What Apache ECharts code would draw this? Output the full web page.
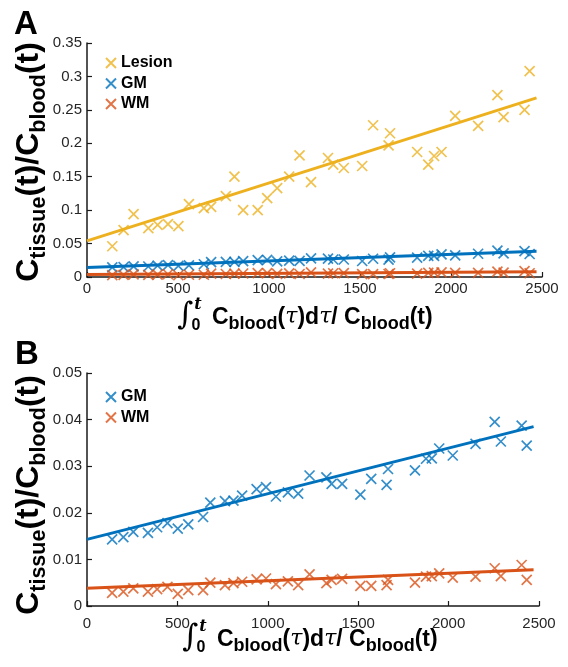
<!DOCTYPE html>
<html>
<head>
<meta charset="utf-8">
<script src="https://cdn.jsdelivr.net/npm/echarts@6/dist/echarts.min.js"></script>
<style>
html, body { margin: 0; padding: 0; background: #fff; }
#chart { width: 568px; height: 667px; }
</style>
</head>
<body>
<div id="chart"></div>
<script>
// x = integral of C_blood / C_blood, same time points for every tissue
var xs = [139, 201, 256, 337, 388, 445, 502, 560, 642, 682, 763, 810, 858, 938, 990, 1045, 1111, 1168,
          1231, 1324, 1353, 1411, 1512, 1572, 1657, 1665, 1814, 1875, 1907, 1948, 2023, 2149, 2255, 2289, 2404, 2432];
var lesion = [0.046, 0.070, 0.094, 0.073, 0.078, 0.079, 0.076, 0.109, 0.103, 0.105, 0.121, 0.150, 0.100, 0.100, 0.118, 0.133, 0.150, 0.182,
              0.142, 0.178, 0.168, 0.163, 0.166, 0.227, 0.197, 0.215, 0.187, 0.168, 0.181, 0.187, 0.241, 0.226, 0.272, 0.239, 0.250, 0.308];
var gm = [0.0143, 0.0148, 0.0159, 0.0157, 0.0169, 0.0178, 0.0166, 0.0175, 0.0191, 0.0222, 0.0225, 0.0226, 0.0237, 0.0251, 0.0255, 0.0235, 0.0244, 0.0241,
          0.0280, 0.0276, 0.0262, 0.0262, 0.0239, 0.0273, 0.0260, 0.0294, 0.0291, 0.0316, 0.0317, 0.0338, 0.0323, 0.0348, 0.0395, 0.0353, 0.0387, 0.0344];
var wm = [0.0028, 0.0031, 0.0038, 0.0031, 0.0036, 0.0041, 0.0026, 0.0034, 0.0034, 0.0050, 0.0045, 0.0049, 0.0052, 0.0057, 0.0059, 0.0047, 0.0053, 0.0045,
          0.0068, 0.0049, 0.0056, 0.0058, 0.0043, 0.0043, 0.0045, 0.0056, 0.0050, 0.0063, 0.0064, 0.0070, 0.0061, 0.0063, 0.0081, 0.0064, 0.0088, 0.0056];

// linear fits, read at both ends
var fitX = [0, 2470];
var lesionFit = [0.054, 0.268];
var gmFit = [0.0143, 0.0385];
var wmFit = [0.0038, 0.0078];

// axis ranges / tick steps
var xMax = 2500, xStep = 500;
var yMaxA = 0.35, yStepA = 0.05;
var yMaxB = 0.05, yStepB = 0.01;

var C_LESION = '#EDB120', C_GM = '#0072BD', C_WM = '#D95319';
var FONT = 'Liberation Sans, Arial, sans-serif';
var CROSS = 'path://M0,0L10,10M10,0L0,10';

function pts(ys) { return xs.map(function (x, i) { return [x, ys[i]]; }); }
function fit(ys) { return fitX.map(function (x, i) { return [x, ys[i]]; }); }

function scatter(name, ys, c, idx) {
    return {
        name: name, type: 'scatter', xAxisIndex: idx, yAxisIndex: idx,
        data: pts(ys), symbol: CROSS, symbolSize: 10,
        itemStyle: { color: 'transparent', borderColor: c, borderWidth: 1.7 },
        z: 2
    };
}
function fitLine(name, ys, c, idx) {
    return {
        name: name + ' fit', type: 'line', xAxisIndex: idx, yAxisIndex: idx,
        data: fit(ys), symbol: 'none', lineStyle: { color: c, width: 3 }, z: 3
    };
}

function xAxis(idx, margin) {
    return {
        type: 'value', gridIndex: idx, min: 0, max: xMax, interval: xStep,
        axisLine: { lineStyle: { color: '#1a1a1a', width: 1.5 } },
        axisTick: { inside: true, length: 5, lineStyle: { color: '#1a1a1a', width: 1.2 } },
        axisLabel: { fontSize: 15, color: '#262626', fontFamily: FONT, margin: margin,
                     formatter: function (v) { return String(v); } },
        splitLine: { show: false }
    };
}
function yAxis(idx, max, step) {
    return {
        type: 'value', gridIndex: idx, min: 0, max: max, interval: step,
        axisLine: { show: true, lineStyle: { color: '#1a1a1a', width: 1.5 } },
        axisTick: { show: true, inside: true, length: 5, lineStyle: { color: '#1a1a1a', width: 1.2 } },
        axisLabel: { fontSize: 15, color: '#262626', fontFamily: FONT, margin: 5 },
        splitLine: { show: false }
    };
}

var yRich = {
    m: { fontSize: 32, fontWeight: 'bold', fontFamily: FONT, fill: '#000', color: '#000', lineHeight: 35, verticalAlign: 'top' },
    s: { fontSize: 21.5, fontWeight: 'bold', fontFamily: FONT, fill: '#000', color: '#000', lineHeight: 21.5, padding: [14.5, 0, 0, 0], verticalAlign: 'top' }
};
var xRich = {
    m: { fontSize: 23, fontWeight: 'bold', fontFamily: FONT, fill: '#000', color: '#000', lineHeight: 26, verticalAlign: 'top' },
    g: { fontSize: 22, fontStyle: 'italic', fontFamily: 'DejaVu Serif', fill: '#000', color: '#000', lineHeight: 26, verticalAlign: 'top' },
    s: { fontSize: 18, fontWeight: 'bold', fontFamily: FONT, fill: '#000', color: '#000', lineHeight: 18, padding: [9.5, 0, 0, 0], verticalAlign: 'top' }
};

function yTitle(cx, cy) {
    return {
        type: 'text', x: cx, y: cy, rotation: Math.PI / 2,
        style: {
            text: '{m|C}{s|tissue}{m|(t)/C}{s|blood}{m|(t)}', rich: yRich,
            align: 'center', verticalAlign: 'middle'
        }
    };
}
// s = left of the integral sign, b = baseline of the main text
function xTitle(s, b) {
    return [
        { type: 'text', x: s + 5, y: b - 9, style: { text: '∫', fontSize: 31, fontFamily: 'DejaVu Serif', fontStyle: 'italic', fill: '#000', align: 'center', verticalAlign: 'middle' } },
        { type: 'text', x: s + 18, y: b - 20, style: { text: 't', fontSize: 16, fontWeight: 'bold', fontStyle: 'italic', fontFamily: 'DejaVu Serif', fill: '#000', align: 'center', verticalAlign: 'middle' } },
        { type: 'text', x: s + 16, y: b + 1, style: { text: '0', fontSize: 16, fontWeight: 'bold', fontFamily: FONT, fill: '#000', align: 'center', verticalAlign: 'middle' } },
        { type: 'text', x: s + 32, y: b - 6, style: {
            text: '{m|C}{s|blood}{m|(}{g|τ}{m|)d}{g|τ}{m|/ C}{s|blood}{m|(t)}', rich: xRich,
            align: 'left', verticalAlign: 'middle' } }
    ];
}
function panelLabel(t, x, y) {
    return { type: 'text', x: x, y: y, style: { text: t, fontSize: 33, fontWeight: 'bold', fontFamily: FONT, fill: '#000', align: 'left', verticalAlign: 'middle' } };
}

var legendBase = {
    orient: 'vertical', icon: CROSS, itemWidth: 10, itemHeight: 10, itemGap: 4.5,
    padding: 0, selectedMode: false,
    textStyle: { fontSize: 16, fontWeight: 'bold', fontFamily: FONT, color: '#000', lineHeight: 16 }
};

var chart = echarts.init(document.getElementById('chart'));
chart.setOption({
    animation: false,
    backgroundColor: '#fff',
    grid: [
        { left: 87, top: 43, width: 455, height: 234 },
        { left: 87, top: 373, width: 452, height: 233 }
    ],
    xAxis: [xAxis(0, 4), xAxis(1, 10)],
    yAxis: [yAxis(0, yMaxA, yStepA), yAxis(1, yMaxB, yStepB)],
    legend: [
        Object.assign({}, legendBase, { data: ['Lesion', 'GM', 'WM'], left: 105, top: 55 }),
        Object.assign({}, legendBase, { data: ['GM', 'WM'], left: 105, top: 389 })
    ],
    series: [
        scatter('Lesion', lesion, C_LESION, 0),
        scatter('GM', gm, C_GM, 0),
        scatter('WM', wm, C_WM, 0),
        fitLine('Lesion', lesionFit, C_LESION, 0),
        fitLine('GM', gmFit, C_GM, 0),
        fitLine('WM', wmFit, C_WM, 0),
        scatter('GM', gm, C_GM, 1),
        scatter('WM', wm, C_WM, 1),
        fitLine('GM', gmFit, C_GM, 1),
        fitLine('WM', wmFit, C_WM, 1)
    ],
    graphic: [
        panelLabel('A', 14, 25),
        panelLabel('B', 15, 355),
        yTitle(31, 162),
        yTitle(31, 495)
    ].concat(xTitle(180, 325), xTitle(185, 647))
});
</script>
</body>
</html>
